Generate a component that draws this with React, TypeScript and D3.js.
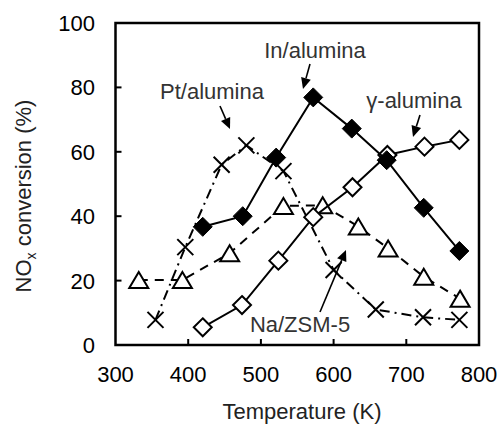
import React from "react";
import * as d3 from "d3";

const inTemp = [420, 475, 521, 572, 625, 673, 724, 773];
const inConv = [36.7, 40.0, 58.2, 76.9, 67.2, 57.4, 42.6, 29.2];

const gammaTemp = [420, 474, 524, 572, 626, 674, 725, 773];
const gammaConv = [5.5, 12.4, 26.2, 39.7, 49.0, 59.0, 61.6, 63.7];

const naTemp = [332, 392, 457, 531, 585, 634, 675, 724, 774];
const naConv = [20.2, 20.2, 28.5, 43.2, 43.4, 36.8, 30.0, 21.2, 14.4];

const ptTemp = [355, 396, 446, 480, 531, 600, 658, 723, 773];
const ptConv = [7.8, 30.4, 56.0, 62.0, 54.0, 23.3, 11.0, 8.6, 7.8];

const xTicks = [300, 400, 500, 600, 700, 800];
const yTicks = [0, 20, 40, 60, 80, 100];

const W = 500;
const H = 425;
const FONT = "'Liberation Sans', Arial, sans-serif";

const x = d3.scaleLinear().domain([300, 800]).range([115.5, 479]);
const y = d3.scaleLinear().domain([0, 100]).range([345, 23]);

type Pt = [number, number];
const zip = (a: number[], b: number[]): Pt[] => a.map((v, i) => [v, b[i]]);

const line = d3
  .line<Pt>()
  .x((d) => x(d[0]))
  .y((d) => y(d[1]));

function Diamond({ cx, cy, filled }: { cx: number; cy: number; filled: boolean }) {
  const r = filled ? 9.5 : 9;
  return (
    <path
      d={`M${cx},${cy - r}L${cx + r},${cy}L${cx},${cy + r}L${cx - r},${cy}Z`}
      fill={filled ? "#000" : "#fff"}
      stroke="#000"
      strokeWidth={filled ? 1 : 2}
      strokeLinejoin="miter"
    />
  );
}

function Tri({ cx, cy }: { cx: number; cy: number }) {
  const hw = 9.5;
  const hh = 8;
  return (
    <path
      d={`M${cx},${cy - hh}L${cx + hw},${cy + hh}L${cx - hw},${cy + hh}Z`}
      fill="#fff"
      stroke="#000"
      strokeWidth={2}
    />
  );
}

function Cross({ cx, cy }: { cx: number; cy: number }) {
  const r = 8;
  return (
    <path
      d={`M${cx - r},${cy - r}L${cx + r},${cy + r}M${cx - r},${cy + r}L${cx + r},${cy - r}`}
      stroke="#000"
      strokeWidth={2}
      fill="none"
    />
  );
}

function Arrow({ x1, y1, x2, y2 }: { x1: number; y1: number; x2: number; y2: number }) {
  const ang = Math.atan2(y2 - y1, x2 - x1);
  const len = 11;
  const hw = 5;
  const bx = x2 - len * Math.cos(ang);
  const by = y2 - len * Math.sin(ang);
  const px = -Math.sin(ang) * hw;
  const py = Math.cos(ang) * hw;
  return (
    <g>
      <line x1={x1} y1={y1} x2={bx} y2={by} stroke="#000" strokeWidth={1.6} />
      <path d={`M${x2},${y2}L${bx + px},${by + py}L${bx - px},${by - py}Z`} fill="#000" />
    </g>
  );
}

export default function App() {
  const na = zip(naTemp, naConv);
  const pt = zip(ptTemp, ptConv);
  const gm = zip(gammaTemp, gammaConv);
  const ind = zip(inTemp, inConv);
  return (
    <svg
      width={W}
      height={H}
      style={{ position: "absolute", left: 0, top: 0, background: "#fff" }}
      fontFamily={FONT}
    >
      <rect x={0} y={0} width={W} height={H} fill="#fff" />
      {/* ticks */}
      {xTicks.slice(1, -1).map((t) => (
        <line key={"xt" + t} x1={x(t)} x2={x(t)} y1={345} y2={339} stroke="#000" strokeWidth={2} />
      ))}
      {yTicks.slice(1, -1).map((t) => (
        <line key={"yt" + t} x1={115.5} x2={121.5} y1={y(t)} y2={y(t)} stroke="#000" strokeWidth={2} />
      ))}
      {xTicks.map((t) => (
        <text key={"xl" + t} x={x(t)} y={382} textAnchor="middle" fontSize={22} fill="#000">
          {t}
        </text>
      ))}
      {yTicks.map((t) => (
        <text key={"yl" + t} x={95} y={y(t) + 8} textAnchor="end" fontSize={22} fill="#000">
          {t}
        </text>
      ))}
      <text x={302} y={419} textAnchor="middle" fontSize={22} fill="#222">
        Temperature (K)
      </text>
      <text transform="translate(31,196) rotate(-90)" textAnchor="middle" fontSize={22} fill="#222">
        NO
        <tspan fontSize={14} dy={5}>x</tspan>
        <tspan dy={-5}> conversion (%)</tspan>
      </text>

      {/* Na/ZSM-5 */}
      <path d={line(na) || ""} fill="none" stroke="#000" strokeWidth={2} strokeDasharray="9,7" />
      {/* Pt/alumina */}
      <path d={line(pt) || ""} fill="none" stroke="#000" strokeWidth={2} strokeDasharray="10,5,2,5" />
      {na.map((d, i) => (
        <Tri key={"na" + i} cx={x(d[0])} cy={y(d[1])} />
      ))}
      {pt.map((d, i) => (
        <Cross key={"pt" + i} cx={x(d[0])} cy={y(d[1])} />
      ))}
      {/* gamma */}
      <path d={line(gm) || ""} fill="none" stroke="#000" strokeWidth={2} />
      {gm.map((d, i) => (
        <Diamond key={"gm" + i} cx={x(d[0])} cy={y(d[1])} filled={false} />
      ))}
      {/* In */}
      <path d={line(ind) || ""} fill="none" stroke="#000" strokeWidth={2} />
      {ind.map((d, i) => (
        <Diamond key={"in" + i} cx={x(d[0])} cy={y(d[1])} filled={true} />
      ))}

      {/* frame */}
      <rect x={115.5} y={23} width={363.5} height={322} fill="none" stroke="#000" strokeWidth={2.5} />

      {/* annotations */}
      <text x={315} y={58} textAnchor="middle" fontSize={22} fill="#333">In/alumina</text>
      <Arrow x1={310} y1={64} x2={303} y2={89} />
      <text x={212} y={99} textAnchor="middle" fontSize={22} fill="#333">Pt/alumina</text>
      <Arrow x1={220} y1={106} x2={230} y2={129} />
      <text x={414} y={108} textAnchor="middle" fontSize={22} fill="#333">γ-alumina</text>
      <Arrow x1={420} y1={115} x2={413} y2={137} />
      <text x={300} y={332} textAnchor="middle" fontSize={22} fill="#333">Na/ZSM-5</text>
      <Arrow x1={320} y1={312} x2={346} y2={250} />
    </svg>
  );
}
